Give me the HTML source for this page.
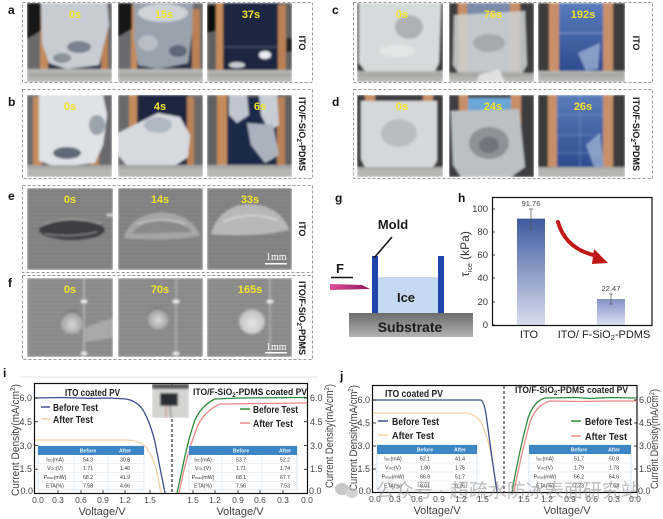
<!DOCTYPE html>
<html><head><meta charset="utf-8">
<style>
html,body{margin:0;padding:0;background:#fff;}
svg{display:block;}
text{font-family:"Liberation Sans","Noto Sans CJK SC",sans-serif;}
</style></head><body>
<svg width="663" height="519" viewBox="0 0 663 519" xmlns="http://www.w3.org/2000/svg">
<defs>
<filter id="bl" x="-5%" y="-5%" width="110%" height="110%"><feGaussianBlur stdDeviation="1.1"/></filter>
<pattern id="rul" width="3" height="14" patternUnits="userSpaceOnUse"><rect width="3" height="14" fill="#b6b6b4"/><line x1="0.5" y1="0" x2="0.5" y2="4" stroke="#6a6a6a" stroke-width="0.7"/></pattern>
<pattern id="hl" width="10" height="4.2" patternUnits="userSpaceOnUse"><rect width="10" height="4.2" fill="#7d7d7d"/><rect y="0" width="10" height="1" fill="#949494"/></pattern>
<pattern id="hl2" width="10" height="4.2" patternUnits="userSpaceOnUse"><rect width="10" height="4.2" fill="#868686"/><rect y="0" width="10" height="1" fill="#9c9c9c"/></pattern>
<linearGradient id="cell" x1="0" y1="0" x2="0" y2="1"><stop offset="0" stop-color="#5a7cbc"/><stop offset="1" stop-color="#2c4c8e"/></linearGradient>
<linearGradient id="bar1" x1="0" y1="0" x2="0" y2="1"><stop offset="0" stop-color="#3e5a9e"/><stop offset="1" stop-color="#d9ddee"/></linearGradient>
<linearGradient id="bar2" x1="0" y1="0" x2="0" y2="1"><stop offset="0" stop-color="#8492c6"/><stop offset="1" stop-color="#dadeef"/></linearGradient>
<linearGradient id="sub" x1="0" y1="0" x2="0" y2="1"><stop offset="0" stop-color="#6c6c6c"/><stop offset="1" stop-color="#b4b4b4"/></linearGradient>
<linearGradient id="pink" x1="0" y1="0" x2="1" y2="0"><stop offset="0" stop-color="#e04a9a"/><stop offset="1" stop-color="#8c1a5a"/></linearGradient>
<radialGradient id="drop" cx="0.5" cy="0.6" r="0.6"><stop offset="0" stop-color="#d8d8d8"/><stop offset="0.7" stop-color="#a8a8a8"/><stop offset="1" stop-color="#6a6a6a"/></radialGradient>
<radialGradient id="drop2" cx="0.5" cy="0.6" r="0.6"><stop offset="0" stop-color="#e6e6e6"/><stop offset="0.8" stop-color="#c4c4c4"/><stop offset="1" stop-color="#8a8a8a"/></radialGradient>
</defs>
<rect width="663" height="519" fill="#fff"/>

<!-- dashed boxes -->
<g fill="none" stroke="#9a9a9a" stroke-width="1" stroke-dasharray="3,2">
<rect x="22.5" y="2.5" width="290" height="80"/>
<rect x="22.5" y="89.5" width="290" height="89"/>
<rect x="353.5" y="2.5" width="299" height="80"/>
<rect x="353.5" y="89.5" width="299" height="89"/>
<rect x="22.5" y="185.5" width="290" height="87"/>
<rect x="22.5" y="275.5" width="290" height="84"/>
</g>

<!-- panel labels -->
<g font-weight="bold" font-size="12" fill="#111">
<text x="8" y="14">a</text>
<text x="8" y="106">b</text>
<text x="332" y="14">c</text>
<text x="332" y="106">d</text>
<text x="8" y="200">e</text>
<text x="8" y="287">f</text>
<text x="335" y="202">g</text>
<text x="458" y="202">h</text>
<text x="3" y="377">i</text>
<text x="340" y="380">j</text>
</g>

<!-- ===== Row a ===== -->
<svg x="27" y="3" width="85" height="79"><g filter="url(#bl)">
<rect width="85" height="79" fill="#6a6b6d"/>
<rect x="20" y="0" width="54" height="68" fill="#2e3648"/>
<rect x="13" y="2" width="8" height="66" fill="#c48c5c"/>
<rect x="74" y="8" width="7" height="60" fill="#b98155"/>
<path d="M0,0 L14,0 L14,28 L0,36Z" fill="#151515"/>
<path d="M14,0 L80,0 L82,22 L76,45 L72,62 L40,66 L22,60 L15,40Z" fill="#c8ccd2"/>
<ellipse cx="52" cy="44" rx="12" ry="6" fill="#7a8290"/>
<ellipse cx="35" cy="55" rx="9" ry="5" fill="#8a929c"/>
<rect y="66" width="85" height="13" fill="url(#rul)"/>
</g></svg>
<svg x="118" y="3" width="85" height="79"><g filter="url(#bl)">
<rect width="85" height="79" fill="#6a6b6d"/>
<rect x="18" y="0" width="56" height="68" fill="#2e3648"/>
<rect x="13" y="2" width="6" height="66" fill="#c48c5c"/>
<rect x="74" y="6" width="8" height="62" fill="#b98155"/>
<path d="M0,0 L14,0 L14,26 L0,34Z" fill="#151515"/>
<path d="M16,0 L75,0 L74,30 L70,60 L40,66 L20,62 L16,35Z" fill="#9aa2ae"/>
<ellipse cx="45" cy="10" rx="25" ry="9" fill="#cfd3d8"/>
<ellipse cx="30" cy="40" rx="10" ry="8" fill="#b8bec6"/>
<ellipse cx="60" cy="48" rx="9" ry="6" fill="#5e6878"/>
<rect y="66" width="85" height="13" fill="url(#rul)"/>
</g></svg>
<svg x="207" y="3" width="85" height="79"><g filter="url(#bl)">
<rect width="85" height="79" fill="#5f6062"/>
<rect x="15" y="0" width="57" height="68" fill="#1c2540"/>
<rect x="9" y="0" width="7" height="68" fill="#c48c5c"/>
<rect x="71" y="2" width="8" height="66" fill="#b98155"/>
<path d="M0,2 L9,2 L9,28 L0,30Z" fill="#111"/>
<rect x="79" y="35" width="6" height="14" fill="#222"/>
<line x1="15" y1="44" x2="72" y2="44" stroke="#8a92a8" stroke-width="0.6"/>
<ellipse cx="58" cy="52" rx="6" ry="4" fill="#e8ecf0"/>
<ellipse cx="30" cy="62" rx="8" ry="3" fill="#c8ccd2"/>
<rect y="67" width="85" height="12" fill="url(#rul)"/>
</g></svg>

<!-- ===== Row b ===== -->
<svg x="27" y="95" width="85" height="82"><g filter="url(#bl)">
<rect width="85" height="82" fill="#6a6b6d"/>
<rect x="14" y="0" width="54" height="70" fill="#3a4050"/>
<rect x="6" y="2" width="9" height="68" fill="#c48c5c"/>
<rect x="63" y="6" width="9" height="64" fill="#b98155"/>
<path d="M12,0 L76,0 L80,20 L76,50 L68,68 L30,72 L12,66Z" fill="#dfe2e6"/>
<ellipse cx="40" cy="58" rx="14" ry="6" fill="#606a78"/>
<ellipse cx="70" cy="30" rx="8" ry="10" fill="#9aa2ac"/>
<rect y="70" width="85" height="12" fill="url(#rul)"/>
</g></svg>
<svg x="118" y="95" width="85" height="82"><g filter="url(#bl)">
<rect width="85" height="82" fill="#6a6b6d"/>
<rect x="18" y="0" width="52" height="70" fill="#1c2540"/>
<rect x="11" y="0" width="8" height="70" fill="#c48c5c"/>
<rect x="69" y="2" width="7" height="68" fill="#b98155"/>
<path d="M0,38 L20,28 L40,18 L62,22 L72,40 L70,62 L55,72 L10,72 L0,60Z" fill="#d6d9de"/>
<ellipse cx="40" cy="30" rx="14" ry="8" fill="#b0b8c4"/>
<rect y="70" width="85" height="12" fill="url(#rul)"/>
</g></svg>
<svg x="207" y="95" width="85" height="82"><g filter="url(#bl)">
<rect width="85" height="82" fill="#5f6062"/>
<rect x="20" y="2" width="50" height="68" fill="#1e2a48"/>
<rect x="10" y="0" width="10" height="70" fill="#c48c5c"/>
<rect x="70" y="2" width="8" height="68" fill="#b98155"/>
<path d="M22,0 L40,0 L42,20 L30,28 L22,20Z" fill="#bfc6d0"/>
<path d="M52,0 L70,0 L72,30 L62,36 L54,20Z" fill="#c8ced6"/>
<path d="M40,28 L66,30 L72,60 L58,68 L44,50Z" fill="#aab2be"/>
<rect y="70" width="85" height="12" fill="url(#rul)"/>
</g></svg>

<!-- ===== Row c ===== -->
<svg x="357" y="3" width="86" height="79"><g filter="url(#bl)">
<rect width="86" height="79" fill="#3a3a3c"/>
<path d="M2,0 L84,0 L82,60 L78,68 L8,68 L2,60Z" fill="#d7dada"/>
<ellipse cx="52" cy="24" rx="14" ry="12" fill="#aeb2b4"/>
<ellipse cx="40" cy="48" rx="18" ry="6" fill="#e4e6e6"/>
<rect y="68" width="86" height="11" fill="url(#rul)"/>
</g></svg>
<svg x="449" y="3" width="85" height="79"><g filter="url(#bl)">
<rect width="85" height="79" fill="#3e3e40"/>
<rect x="18" y="0" width="44" height="68" fill="#7a8aa8"/>
<rect x="9" y="0" width="9" height="68" fill="#c89068"/>
<rect x="61" y="0" width="10" height="68" fill="#c89068"/>
<path d="M5,12 L76,8 L78,62 L70,76 L12,74 L4,62Z" fill="#cfd2d2" opacity="0.85"/>
<ellipse cx="40" cy="40" rx="16" ry="9" fill="#a4aab0"/>
<rect y="70" width="85" height="9" fill="url(#rul)"/>
<path d="M30,72 L50,66 L56,79 L28,79Z" fill="#e0e0e0"/>
</g></svg>
<svg x="538" y="3" width="87" height="79"><g filter="url(#bl)">
<rect width="87" height="79" fill="#3a3a3a"/>
<rect x="20" y="0" width="46" height="68" fill="url(#cell)"/>
<rect x="11" y="0" width="10" height="68" fill="#c89068"/>
<rect x="65" y="0" width="10" height="68" fill="#c89068"/>
<line x1="20" y1="30" x2="66" y2="30" stroke="#b8c8e8" stroke-width="0.6"/>
<path d="M40,50 L62,40 L60,66 L48,68Z" fill="#9cb0d4" opacity="0.8"/>
<rect y="68" width="87" height="11" fill="url(#rul)"/>
</g></svg>

<!-- ===== Row d ===== -->
<svg x="357" y="95" width="86" height="82"><g filter="url(#bl)">
<rect width="86" height="82" fill="#3a3a3c"/>
<rect x="8" y="0" width="10" height="14" fill="#c89068"/>
<rect x="66" y="0" width="10" height="14" fill="#c89068"/>
<path d="M4,6 L80,6 L80,66 L76,72 L8,72 L4,64Z" fill="#d5d8d9"/>
<ellipse cx="42" cy="38" rx="18" ry="14" fill="#b8bdc0"/>
<rect y="72" width="86" height="10" fill="url(#rul)"/>
</g></svg>
<svg x="449" y="95" width="85" height="82"><g filter="url(#bl)">
<rect width="85" height="82" fill="#3e3e40"/>
<rect x="18" y="3" width="45" height="18" fill="#6aa6d6"/>
<rect x="10" y="0" width="9" height="30" fill="#c89068"/>
<rect x="62" y="0" width="10" height="30" fill="#c89068"/>
<path d="M2,16 L70,14 L76,72 L62,82 L12,82 L4,70Z" fill="#bcc0c3"/>
<ellipse cx="40" cy="48" rx="20" ry="16" fill="#8c9298"/>
<ellipse cx="40" cy="50" rx="10" ry="8" fill="#6e757c"/>
</g></svg>
<svg x="538" y="95" width="87" height="82"><g filter="url(#bl)">
<rect width="87" height="82" fill="#3a3a3a"/>
<rect x="18" y="0" width="48" height="72" fill="url(#cell)"/>
<rect x="10" y="0" width="9" height="72" fill="#c89068"/>
<rect x="65" y="0" width="10" height="72" fill="#c89068"/>
<g stroke="#9cb4dc" stroke-width="0.5" opacity="0.7"><line x1="18" y1="20" x2="66" y2="20"/><line x1="18" y1="40" x2="66" y2="40"/><line x1="18" y1="58" x2="66" y2="58"/><line x1="42" y1="0" x2="42" y2="72"/></g>
<path d="M48,50 L62,38 L66,72 L56,72Z" fill="#a8bcdc" opacity="0.7"/>
<rect y="72" width="87" height="10" fill="url(#rul)"/>
</g></svg>

<!-- ===== Row e ===== -->
<svg x="27" y="188" width="86" height="82"><g filter="url(#bl)">
<rect width="86" height="82" fill="url(#hl)"/>
<ellipse cx="45" cy="42" rx="33" ry="10" fill="#3c3e42"/>
<path d="M14,38 Q40,26 74,36" fill="none" stroke="#a8a8a8" stroke-width="1.2"/>
<path d="M18,46 Q45,50 70,44" fill="none" stroke="#9a9a9a" stroke-width="1"/>
<rect x="80" y="26" width="6" height="2" fill="#ddd"/>
</g></svg>
<svg x="118" y="188" width="85" height="82"><g filter="url(#bl)">
<rect width="85" height="82" fill="url(#hl)"/>
<path d="M6,50 Q12,28 42,24 Q74,26 82,48 Q45,54 6,50Z" fill="#a6a6a6"/>
<path d="M14,46 Q20,34 42,32 Q66,34 74,44Z" fill="#8a8a8a"/>
<path d="M20,36 Q42,28 68,36" fill="none" stroke="#cfcfcf" stroke-width="1.2"/>
</g></svg>
<svg x="207" y="188" width="85" height="82"><g filter="url(#bl)">
<rect width="85" height="82" fill="url(#hl)"/>
<path d="M4,46 Q12,18 42,16 Q74,18 82,42 Q45,50 4,46Z" fill="#b8b8b8"/>
<path d="M16,34 Q42,22 70,32" fill="none" stroke="#dcdcdc" stroke-width="1.4"/>
</g></svg>

<!-- ===== Row f ===== -->
<svg x="27" y="278" width="86" height="79"><g filter="url(#bl)">
<rect width="86" height="79" fill="url(#hl2)"/>
<rect x="56" y="0" width="2" height="79" fill="#b0b0b0"/>
<rect x="54" y="22" width="6" height="3" fill="#eee"/>
<rect x="54" y="74" width="6" height="3" fill="#eee"/>
<path d="M58,50 Q72,44 86,40 L86,60 Q70,62 58,64Z" fill="#a8a8a8"/>
<circle cx="45" cy="44" r="12" fill="url(#drop)"/>
</g></svg>
<svg x="118" y="278" width="85" height="79"><g filter="url(#bl)">
<rect width="85" height="79" fill="url(#hl2)"/>
<rect x="57" y="0" width="2" height="79" fill="#a8a8a8"/>
<rect x="55" y="22" width="6" height="3" fill="#eee"/>
<rect x="55" y="74" width="6" height="3" fill="#eee"/>
<circle cx="40" cy="40" r="11" fill="url(#drop)"/>
</g></svg>
<svg x="207" y="278" width="85" height="79"><g filter="url(#bl)">
<rect width="85" height="79" fill="url(#hl2)"/>
<rect x="62" y="0" width="2" height="79" fill="#a8a8a8"/>
<rect x="60" y="22" width="6" height="3" fill="#eee"/>
<circle cx="45" cy="43" r="13" fill="url(#drop2)"/>
</g></svg>

<!-- time labels -->
<g font-weight="bold" font-size="11" fill="#f4e428" text-anchor="middle">
<text x="75" y="18">0s</text><text x="164" y="18">15s</text><text x="251" y="18">37s</text>
<text x="70" y="110">0s</text><text x="160" y="110">4s</text><text x="260" y="110">6s</text>
<text x="402" y="18">0s</text><text x="493" y="18">76s</text><text x="583" y="18">192s</text>
<text x="402" y="110">0s</text><text x="493" y="110">24s</text><text x="583" y="110">26s</text>
<text x="70" y="203">0s</text><text x="160" y="203">14s</text><text x="250" y="203">33s</text>
<text x="70" y="293">0s</text><text x="160" y="293">70s</text><text x="250" y="293">165s</text>
</g>
<!-- scale bars -->
<g fill="#fff" font-size="10">
<text x="266" y="260" style="font-family:'Liberation Serif',serif">1mm</text>
<rect x="265" y="263" width="22" height="1.5"/>
<text x="266" y="350" style="font-family:'Liberation Serif',serif">1mm</text>
<rect x="265" y="352" width="22" height="1.5"/>
</g>

<!-- side labels -->
<g font-weight="bold" font-size="9" fill="#111" text-anchor="middle">
<text transform="translate(299,43) rotate(90)">ITO</text>
<text transform="translate(299,134) rotate(90)">ITO/F-SiO<tspan font-size="6.5" dy="2">2</tspan><tspan dy="-2">-PDMS</tspan></text>
<text transform="translate(633,43) rotate(90)">ITO</text>
<text transform="translate(633,134) rotate(90)">ITO/F-SiO<tspan font-size="6.5" dy="2">2</tspan><tspan dy="-2">-PDMS</tspan></text>
<text transform="translate(299,229) rotate(90)">ITO</text>
<text transform="translate(299,318) rotate(90)">ITO/F-SiO<tspan font-size="6.5" dy="2">2</tspan><tspan dy="-2">-PDMS</tspan></text>
</g>

<!-- ===== Panel g ===== -->
<polygon points="330,284 362,285 370,289 330,290" fill="url(#pink)"/>
<rect x="349" y="313" width="124" height="24" fill="url(#sub)"/>
<rect x="377" y="277" width="61" height="36" fill="#c6d9f2"/>
<rect x="372" y="256" width="6" height="57" fill="#1f46a8"/>
<rect x="438" y="256" width="6" height="57" fill="#1f46a8"/>
<line x1="392" y1="237" x2="374" y2="258" stroke="#111" stroke-width="1.5"/>
<line x1="331" y1="277.5" x2="353" y2="277.5" stroke="#111" stroke-width="1.6"/>
<g font-weight="bold" fill="#1a1a1a">
<text x="393" y="229" font-size="13" text-anchor="middle">Mold</text>
<text x="406" y="302" font-size="13" text-anchor="middle">Ice</text>
<text x="410" y="332" font-size="14" text-anchor="middle">Substrate</text>
<text x="336" y="273" font-size="13">F</text>
</g>

<!-- ===== Panel h ===== -->
<rect x="517" y="218.6" width="28" height="106.4" fill="url(#bar1)"/>
<rect x="597" y="299" width="28" height="26" fill="url(#bar2)"/>
<g stroke="#555" stroke-width="0.7" fill="none">
<line x1="531" y1="209" x2="531" y2="229"/><line x1="529" y1="209" x2="533" y2="209"/><line x1="529" y1="229" x2="533" y2="229"/>
<line x1="611" y1="294" x2="611" y2="304"/><line x1="609" y1="294" x2="613" y2="294"/><line x1="609" y1="304" x2="613" y2="304"/>
</g>
<rect x="492.5" y="197.5" width="159.5" height="128" fill="none" stroke="#111" stroke-width="1.2"/>
<g stroke="#111" stroke-width="0.8">
<line x1="492" y1="325" x2="495" y2="325"/><line x1="492" y1="302" x2="495" y2="302"/><line x1="492" y1="278" x2="495" y2="278"/><line x1="492" y1="255" x2="495" y2="255"/><line x1="492" y1="232" x2="495" y2="232"/><line x1="492" y1="209" x2="495" y2="209"/>
</g>
<g font-size="9.5" fill="#333" text-anchor="end">
<text x="488" y="328">0</text><text x="488" y="305">20</text><text x="488" y="281">40</text><text x="488" y="258">60</text><text x="488" y="235">80</text><text x="488" y="212">100</text>
</g>
<g font-size="7.5" fill="#444" text-anchor="middle">
<text x="531" y="206">91.76</text><text x="611" y="291">22.47</text>
</g>
<path d="M558,222 Q566,250 598,256" fill="none" stroke="#c01818" stroke-width="4" stroke-linecap="round"/>
<polygon points="594,249 608,263 592,264" fill="#c01818"/>
<text transform="translate(469,254) rotate(-90)" font-size="12" fill="#333" text-anchor="middle">τ<tspan font-size="7" dy="3">ice</tspan><tspan dy="-3"> (kPa)</tspan></text>
<g font-size="11" fill="#222" text-anchor="middle">
<text x="529" y="338">ITO</text>
<text x="604" y="338">ITO/ F-SiO<tspan font-size="7.5" dy="2">2</tspan><tspan dy="-2">-PDMS</tspan></text>
</g>

<!-- ===== Panel i ===== -->
<line x1="20" y1="377" x2="318" y2="377" stroke="#e4e4e4" stroke-width="1"/>
<rect x="34.5" y="383.5" width="273" height="110" fill="none" stroke="#111" stroke-width="1.2"/>
<line x1="172" y1="384" x2="172" y2="493" stroke="#333" stroke-width="1.2" stroke-dasharray="3,2"/>
<svg x="152" y="384" width="37" height="34"><g filter="url(#bl)">
<rect width="37" height="34" fill="#d4d4d2"/>
<rect width="37" height="5" fill="#555"/>
<rect x="8" y="9" width="18" height="13" fill="#2a2d33"/>
<line x1="14" y1="22" x2="14" y2="34" stroke="#c44" stroke-width="0.8"/>
<line x1="18" y1="22" x2="19" y2="34" stroke="#333" stroke-width="0.8"/>
</g></svg>
<g fill="none" stroke-width="1.3">
<path d="M35,440 L128,440 Q140,441 146,447 Q153,456 157,472 L161,493" stroke="#f2d3a2"/>
<path d="M35,398 L60,397.5 L90,398.3 L110,398 L126,399 Q137,401 143,410 Q150,422 155,442 L160,468 L165,493" stroke="#3f5090"/>
<path d="M179,493 L184,470 Q190,445 198,425 Q206,410 220,404 L260,403.5 L307,403" stroke="#ea8a88"/>
<path d="M177,493 L182,470 Q188,440 195,420 Q202,405 215,399 L240,398 L307,397.5" stroke="#2f8a3a"/>
</g>
<g stroke="#111" stroke-width="0.8">
<line x1="35" y1="398" x2="38" y2="398"/><line x1="35" y1="421.75" x2="38" y2="421.75"/><line x1="35" y1="445.5" x2="38" y2="445.5"/><line x1="35" y1="469.25" x2="38" y2="469.25"/>
<line x1="307" y1="398" x2="304" y2="398"/><line x1="307" y1="421.75" x2="304" y2="421.75"/><line x1="307" y1="445.5" x2="304" y2="445.5"/><line x1="307" y1="469.25" x2="304" y2="469.25"/>
<line x1="58" y1="493" x2="58" y2="490"/><line x1="81" y1="493" x2="81" y2="490"/><line x1="103" y1="493" x2="103" y2="490"/><line x1="125" y1="493" x2="125" y2="490"/><line x1="150" y1="493" x2="150" y2="490"/>
<line x1="193" y1="493" x2="193" y2="490"/><line x1="215" y1="493" x2="215" y2="490"/><line x1="238" y1="493" x2="238" y2="490"/><line x1="260" y1="493" x2="260" y2="490"/><line x1="283" y1="493" x2="283" y2="490"/>
</g>
<g font-size="9" fill="#444">
<g text-anchor="end"><text x="32" y="401">6.0</text><text x="32" y="425">4.5</text><text x="32" y="449">3.0</text><text x="32" y="472">1.5</text><text x="33" y="494">0.0</text></g>
<g><text x="310" y="401">6.0</text><text x="310" y="425">4.5</text><text x="310" y="449">3.0</text><text x="310" y="472">1.5</text><text x="309" y="494">0.0</text></g>
<g text-anchor="middle" font-size="8.5"><text x="38" y="503">0.0</text><text x="58" y="503">0.3</text><text x="81" y="503">0.6</text><text x="103" y="503">0.9</text><text x="125" y="503">1.2</text><text x="150" y="503">1.5</text>
<text x="193" y="503">1.5</text><text x="215" y="503">1.2</text><text x="238" y="503">0.9</text><text x="260" y="503">0.6</text><text x="283" y="503">0.3</text><text x="307" y="503">0.0</text></g>
</g>
<g font-size="11" fill="#444" text-anchor="middle">
<text x="102" y="515">Voltage/V</text><text x="240" y="515">Voltage/V</text>
</g>
<text transform="translate(19,440) rotate(-90)" font-size="11" fill="#444" text-anchor="middle" textLength="112" lengthAdjust="spacingAndGlyphs">Current Density(mA/cm<tspan font-size="7" dy="-4">2</tspan><tspan dy="4">)</tspan></text>
<text transform="translate(333,436) rotate(-90)" font-size="11" fill="#444" text-anchor="middle" textLength="104" lengthAdjust="spacingAndGlyphs">Current Density(mA/cm<tspan font-size="7" dy="-4">2</tspan><tspan dy="4">)</tspan></text>
<g font-weight="bold" fill="#222">
<text x="65" y="396" font-size="10" textLength="55" lengthAdjust="spacingAndGlyphs">ITO coated PV</text>
<text x="193" y="395" font-size="9" textLength="114" lengthAdjust="spacingAndGlyphs">ITO/F-SiO<tspan font-size="6.5" dy="2">2</tspan><tspan dy="-2">-PDMS coated PV</tspan></text>
<text x="53" y="411" font-size="10" textLength="45" lengthAdjust="spacingAndGlyphs">Before Test</text>
<text x="53" y="423" font-size="10" textLength="40" lengthAdjust="spacingAndGlyphs">After Test</text>
<text x="253" y="413" font-size="10" textLength="45" lengthAdjust="spacingAndGlyphs">Before Test</text>
<text x="253" y="427" font-size="10" textLength="40" lengthAdjust="spacingAndGlyphs">After Test</text>
</g>
<g stroke-width="1.5">
<line x1="41" y1="407" x2="50" y2="407" stroke="#3f5090"/>
<line x1="41" y1="419" x2="50" y2="419" stroke="#f2d3a2"/>
<line x1="240" y1="409" x2="250" y2="409" stroke="#2f8a3a"/>
<line x1="240" y1="423" x2="250" y2="423" stroke="#ea8a88"/>
</g>
<!-- table i left -->
<g font-size="5.2" fill="#333" text-anchor="middle">
<rect x="38" y="446" width="106" height="44" fill="#fff" stroke="#c8d8ea" stroke-width="0.6"/>
<rect x="38" y="446" width="106" height="9" fill="#3d86c6"/>
<g stroke="#d6e2ee" stroke-width="0.6"><line x1="38" y1="463.75" x2="144" y2="463.75"/><line x1="38" y1="472.5" x2="144" y2="472.5"/><line x1="38" y1="481.25" x2="144" y2="481.25"/><line x1="74" y1="455" x2="74" y2="490"/><line x1="108" y1="455" x2="108" y2="490"/></g>
<text x="88" y="452.5" fill="#e8f0ff" font-weight="bold">Before</text><text x="125" y="452.5" fill="#e8f0ff" font-weight="bold">After</text>
<text x="55" y="461.5">I<tspan font-size="3.5">SC</tspan>(mA)</text><text x="88" y="461.5">54.3</text><text x="125" y="461.5">30.8</text>
<text x="55" y="470">V<tspan font-size="3.5">OC</tspan>(V)</text><text x="88" y="470">1.71</text><text x="125" y="470">1.46</text>
<text x="55" y="479">P<tspan font-size="3.5">max</tspan>(mW)</text><text x="88" y="479">68.2</text><text x="125" y="479">41.9</text>
<text x="55" y="487.5">ETA(%)</text><text x="88" y="487.5">7.58</text><text x="125" y="487.5">4.66</text>
</g>
<!-- table i right -->
<g font-size="5.2" fill="#333" text-anchor="middle">
<rect x="189" y="446" width="108" height="44" fill="#fff" stroke="#c8d8ea" stroke-width="0.6"/>
<rect x="189" y="446" width="108" height="9" fill="#3d86c6"/>
<g stroke="#d6e2ee" stroke-width="0.6"><line x1="189" y1="463.75" x2="297" y2="463.75"/><line x1="189" y1="472.5" x2="297" y2="472.5"/><line x1="189" y1="481.25" x2="297" y2="481.25"/><line x1="222" y1="455" x2="222" y2="490"/><line x1="262" y1="455" x2="262" y2="490"/></g>
<text x="241" y="452.5" fill="#e8f0ff" font-weight="bold">Before</text><text x="285" y="452.5" fill="#e8f0ff" font-weight="bold">After</text>
<text x="203" y="461.5">I<tspan font-size="3.5">SC</tspan>(mA)</text><text x="241" y="461.5">53.7</text><text x="285" y="461.5">52.2</text>
<text x="203" y="470">V<tspan font-size="3.5">OC</tspan>(V)</text><text x="241" y="470">1.71</text><text x="285" y="470">1.74</text>
<text x="203" y="479">P<tspan font-size="3.5">max</tspan>(mW)</text><text x="241" y="479">68.1</text><text x="285" y="479">67.7</text>
<text x="203" y="487.5">ETA(%)</text><text x="241" y="487.5">7.56</text><text x="285" y="487.5">7.53</text>
</g>

<!-- ===== Panel j ===== -->
<rect x="372.5" y="385.5" width="264.5" height="107" fill="none" stroke="#111" stroke-width="1.2"/>
<line x1="504" y1="386" x2="504" y2="492" stroke="#333" stroke-width="1.2" stroke-dasharray="3,2"/>
<g fill="none" stroke-width="1.3">
<path d="M373,413 L466,413 Q476,414 482,424 Q489,440 493,465 L497,492" stroke="#f2d3a2"/>
<path d="M373,400 L481,400 Q484,402 486,414 L492,458 L497,492" stroke="#3f5090"/>
<path d="M514,492 Q521,455 530,422 Q536,405 550,401 L580,401.5 L610,401 L637,401" stroke="#ea8a88"/>
<path d="M512,492 Q519,452 528,418 Q534,401 545,398 L575,397.5 L590,398.5 L610,397.5 L637,398" stroke="#2f8a3a"/>
</g>
<g stroke="#111" stroke-width="0.8">
<line x1="373" y1="400" x2="376" y2="400"/><line x1="373" y1="423" x2="376" y2="423"/><line x1="373" y1="446" x2="376" y2="446"/><line x1="373" y1="469" x2="376" y2="469"/>
<line x1="637" y1="400" x2="634" y2="400"/><line x1="637" y1="423" x2="634" y2="423"/><line x1="637" y1="446" x2="634" y2="446"/><line x1="637" y1="469" x2="634" y2="469"/>
</g>
<g font-size="9" fill="#444">
<g text-anchor="end"><text x="370" y="403">6.0</text><text x="370" y="426">4.5</text><text x="370" y="449">3.0</text><text x="370" y="472">1.5</text><text x="371" y="494">0.0</text></g>
<g><text x="639" y="403">6.0</text><text x="639" y="426">4.5</text><text x="639" y="449">3.0</text><text x="639" y="472">1.5</text><text x="638" y="494">0.0</text></g>
<g text-anchor="middle" font-size="8.5"><text x="375" y="502">0.0</text><text x="395" y="502">0.3</text><text x="417" y="502">0.6</text><text x="439" y="502">0.9</text><text x="461" y="502">1.2</text><text x="483" y="502">1.5</text>
<text x="524" y="502">1.5</text><text x="547" y="502">1.2</text><text x="570" y="502">0.9</text><text x="592" y="502">0.6</text><text x="614" y="502">0.3</text><text x="635" y="502">0.0</text></g>
</g>
<g font-size="11" fill="#444" text-anchor="middle">
<text x="437" y="514">Voltage/V</text><text x="567" y="514">Voltage/V</text>
</g>
<text transform="translate(357,438) rotate(-90)" font-size="11" fill="#444" text-anchor="middle" textLength="106" lengthAdjust="spacingAndGlyphs">Current Density(mA/cm<tspan font-size="7" dy="-4">2</tspan><tspan dy="4">)</tspan></text>
<text transform="translate(658,439) rotate(-90)" font-size="11" fill="#444" text-anchor="middle" textLength="100" lengthAdjust="spacingAndGlyphs">Current Density(mA/cm<tspan font-size="7" dy="-4">2</tspan><tspan dy="4">)</tspan></text>
<g font-weight="bold" fill="#222">
<text x="385" y="397" font-size="10.5" textLength="58" lengthAdjust="spacingAndGlyphs">ITO coated PV</text>
<text x="515" y="393" font-size="9" textLength="113" lengthAdjust="spacingAndGlyphs">ITO/F-SiO<tspan font-size="6.5" dy="2">2</tspan><tspan dy="-2">-PDMS coated PV</tspan></text>
<text x="392" y="425" font-size="10.5" textLength="47" lengthAdjust="spacingAndGlyphs">Before Test</text>
<text x="392" y="439" font-size="10.5" textLength="42" lengthAdjust="spacingAndGlyphs">After Test</text>
<text x="585" y="425" font-size="10.5" textLength="47" lengthAdjust="spacingAndGlyphs">Before Test</text>
<text x="585" y="440" font-size="10.5" textLength="42" lengthAdjust="spacingAndGlyphs">After Test</text>
</g>
<g stroke-width="1.5">
<line x1="378" y1="421" x2="388" y2="421" stroke="#3f5090"/>
<line x1="378" y1="435" x2="388" y2="435" stroke="#f2d3a2"/>
<line x1="571" y1="421" x2="581" y2="421" stroke="#2f8a3a"/>
<line x1="571" y1="436" x2="581" y2="436" stroke="#ea8a88"/>
</g>
<!-- table j left -->
<g font-size="5.2" fill="#333" text-anchor="middle">
<rect x="377" y="445" width="100" height="45" fill="#fff" stroke="#c8d8ea" stroke-width="0.6"/>
<rect x="377" y="445" width="100" height="9" fill="#3d86c6"/>
<g stroke="#d6e2ee" stroke-width="0.6"><line x1="377" y1="463" x2="477" y2="463"/><line x1="377" y1="472" x2="477" y2="472"/><line x1="377" y1="481" x2="477" y2="481"/></g>
<text x="425" y="451.5" fill="#e8f0ff" font-weight="bold">Before</text><text x="460" y="451.5" fill="#e8f0ff" font-weight="bold">After</text>
<text x="393" y="460.5">I<tspan font-size="3.5">SC</tspan>(mA)</text><text x="425" y="460.5">52.1</text><text x="460" y="460.5">41.4</text>
<text x="393" y="469.5">V<tspan font-size="3.5">OC</tspan>(V)</text><text x="425" y="469.5">1.80</text><text x="460" y="469.5">1.75</text>
<text x="393" y="478.5">P<tspan font-size="3.5">max</tspan>(mW)</text><text x="425" y="478.5">66.9</text><text x="460" y="478.5">51.7</text>
<text x="393" y="487.5">ETA(%)</text><text x="425" y="487.5">8.01</text><text x="460" y="487.5">6.26</text>
</g>
<!-- table j right -->
<g font-size="5.2" fill="#333" text-anchor="middle">
<rect x="529" y="445" width="102" height="45" fill="#fff" stroke="#c8d8ea" stroke-width="0.6"/>
<rect x="529" y="445" width="102" height="9" fill="#3d86c6"/>
<g stroke="#d6e2ee" stroke-width="0.6"><line x1="529" y1="463" x2="631" y2="463"/><line x1="529" y1="472" x2="631" y2="472"/><line x1="529" y1="481" x2="631" y2="481"/></g>
<text x="579" y="451.5" fill="#e8f0ff" font-weight="bold">Before</text><text x="614" y="451.5" fill="#e8f0ff" font-weight="bold">After</text>
<text x="545" y="460.5">I<tspan font-size="3.5">SC</tspan>(mA)</text><text x="579" y="460.5">51.7</text><text x="614" y="460.5">50.8</text>
<text x="545" y="469.5">V<tspan font-size="3.5">OC</tspan>(V)</text><text x="579" y="469.5">1.79</text><text x="614" y="469.5">1.78</text>
<text x="545" y="478.5">P<tspan font-size="3.5">max</tspan>(mW)</text><text x="579" y="478.5">66.2</text><text x="614" y="478.5">64.6</text>
<text x="545" y="487.5">ETA(%)</text><text x="579" y="487.5">7.73</text><text x="614" y="487.5">7.64</text>
</g>

<!-- watermark -->
<g opacity="0.55">
<ellipse cx="342" cy="489" rx="7" ry="6" fill="#9a9a9a"/>
<ellipse cx="352" cy="493" rx="6" ry="5" fill="#b0b0b0"/>
<text x="376" y="497" font-size="19" fill="#8a8a8a" style="font-family:'Liberation Sans','Noto Sans CJK SC',sans-serif">公众号 · 超疏水防冰表面研究站</text>
</g>
</svg>
</body></html>
